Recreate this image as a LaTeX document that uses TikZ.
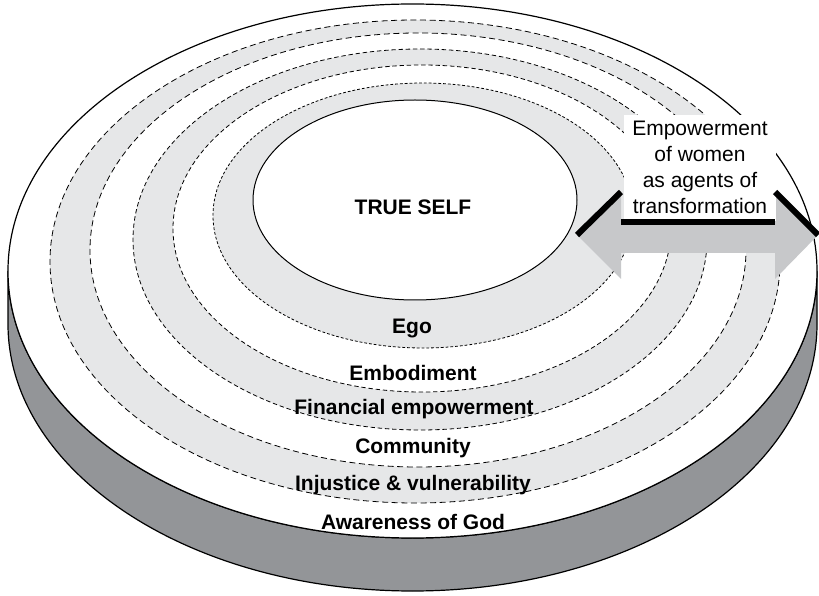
\documentclass[tikz,border=0pt]{standalone}
\usepackage{fontspec}
\setmainfont{Liberation Sans}

\definecolor{bandgrey}{RGB}{230,231,232}
\definecolor{sidegrey}{RGB}{147,149,152}
\definecolor{arrowgrey}{RGB}{199,200,202}

\begin{document}
\begin{tikzpicture}[x=0.5pt,y=0.5pt,
  ringlabel/.style={font=\bfseries\fontsize{10.5}{12}\selectfont},
  longdash/.style={black,line width=0.4pt,dash pattern=on 3pt off 1.8pt},
  middash/.style={black,line width=0.4pt,dash pattern=on 2.2pt off 1.4pt},
  finedash/.style={black,line width=0.4pt,dash pattern=on 1.4pt off 1pt},
  rim/.style={black,line width=0.6pt},
  arrowedge/.style={black,line width=3pt},
  labelbox/.style={fill=white,align=center,inner sep=1pt,minimum width=76pt,
    minimum height=53pt,font=\fontsize{10.5}{13}\selectfont}]

\useasboundingbox (0,0) rectangle (819,595);

\path (412.5,324) coordinate (disc);
\path (8,324) coordinate (TopL);
\path (817,324) coordinate (TopR);
\path (8,271) coordinate (BotL);
\path (817,271) coordinate (BotR);

\path (577,360) coordinate (TipL);
\path (621,403) coordinate (HeadLTop);
\path (621,316) coordinate (HeadLBot);
\path (621,373) coordinate (ShaftLTop);
\path (621,342) coordinate (ShaftLBot);
\path (775,373) coordinate (ShaftRTop);
\path (775,342) coordinate (ShaftRBot);
\path (775,403) coordinate (HeadRTop);
\path (775,316) coordinate (HeadRBot);
\path (818,360) coordinate (TipR);

\draw [rim,fill=sidegrey] (TopL) -- (BotL)
  arc [start angle=180,end angle=360,x radius=404.5,y radius=267] -- (TopR)
  arc [start angle=0,end angle=-180,x radius=404.5,y radius=267] -- cycle;
\draw [rim,fill=white] (disc) ellipse [x radius=404.5,y radius=267];

\draw [longdash,fill=bandgrey] (415,333.5) ellipse [x radius=365,y radius=241.5];
\draw [longdash,fill=white] (418,345) ellipse [x radius=328,y radius=217];
\draw [middash,fill=bandgrey] (420,355.5) ellipse [x radius=287,y radius=190.5];
\draw [middash,fill=white] (422,366.5) ellipse [x radius=249,y radius=163.5];
\draw [finedash,fill=bandgrey] (423,379.5) ellipse [x radius=210,y radius=132.5];
\draw [black,line width=0.5pt,fill=white] (415,395) ellipse [x radius=162,y radius=100];

\node [ringlabel] (self) at (413,388) {TRUE SELF};
\node [ringlabel] (ego) at (412,266) {Ego};
\node [ringlabel] (body) at (413,222) {Embodiment};
\node [ringlabel] (finance) at (414,186) {Financial empowerment};
\node [ringlabel] (community) at (413,147) {Community};
\node [ringlabel] (injustice) at (413,110) {Injustice \& vulnerability};
\node [ringlabel] (god) at (413,73) {Awareness of God};

\fill [arrowgrey] (TipL) -- (HeadLTop) -- (ShaftLTop) -- (ShaftRTop) -- (HeadRTop)
  -- (TipR) -- (HeadRBot) -- (ShaftRBot) -- (ShaftLBot) -- (HeadLBot) -- cycle;
\node [labelbox,anchor=south] (women) at (700,374)
  {Empowerment\\of women\\as agents of\\transformation};
\draw [arrowedge] (TipL) -- (HeadLTop);
\draw [arrowedge] (ShaftLTop) -- (ShaftRTop);
\draw [arrowedge] (HeadRTop) -- (TipR);
\end{tikzpicture}
\end{document}
